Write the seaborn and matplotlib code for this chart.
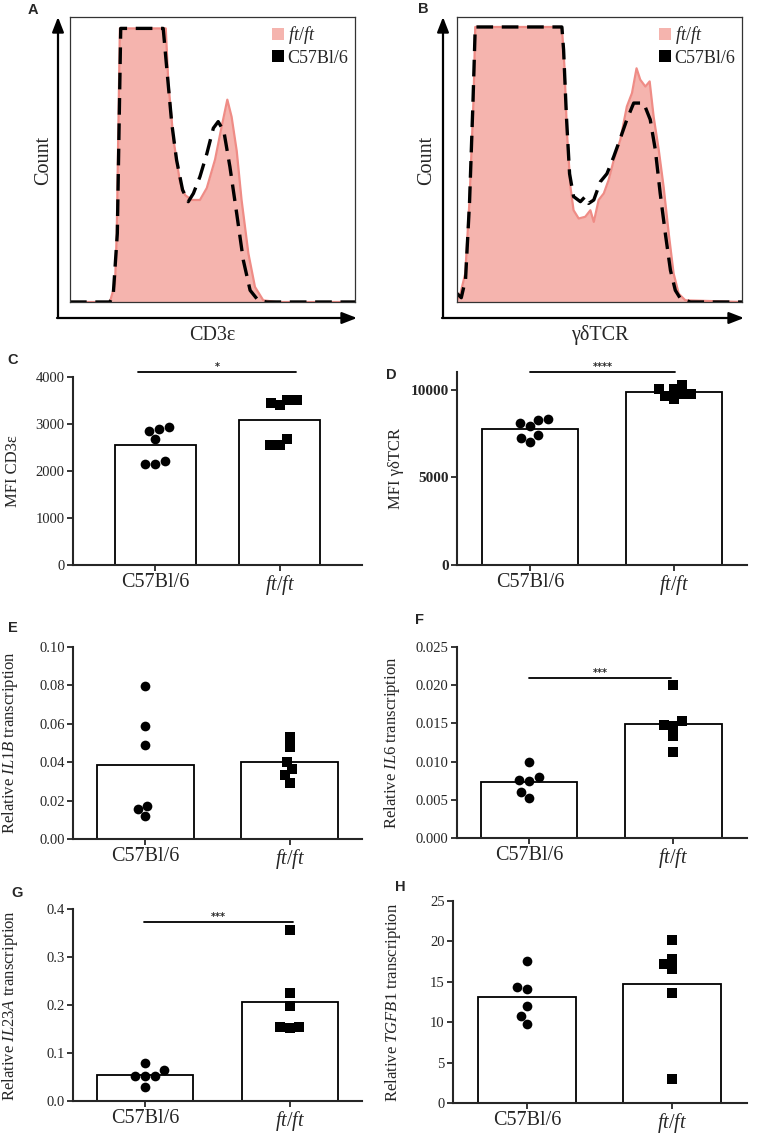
import numpy as np
import pandas as pd
import matplotlib
matplotlib.use("Agg")
import matplotlib.pyplot as plt
import seaborn as sns
from matplotlib.patches import Patch

sns.set_style("ticks")
plt.rcParams["font.family"] = ["Liberation Serif", "DejaVu Serif"]
plt.rcParams["mathtext.fontset"] = "custom"
plt.rcParams["mathtext.rm"] = "Liberation Serif"
plt.rcParams["mathtext.it"] = "Liberation Serif:italic"

W, H = 758, 1139
PINK_FILL = "#f5b4ae"
PINK_EDGE = "#ef8c86"

groups = ["C57Bl/6", "ft/ft"]
group_labels = ["C57Bl/6", r"$\mathit{ft/ft}$"]

# --- flow histograms (x: % of axis, y: % of max count) ---
cd3_ft_x = [0, 14, 15.8, 16.4, 17.5, 33.6, 34.5, 36.3, 38.6, 40.4, 42.7, 45.6, 48, 50.9,
            53.2, 55.2, 56.7, 58.5, 60.2, 62.6, 64.9, 67.8, 72.5, 100]
cd3_ft_y = [0, 0, 6.4, 24, 96, 96, 77, 57, 42, 37.5, 35.8, 35.8, 40, 50,
            61.5, 71, 65, 53, 35.8, 17, 5.3, 0.6, 0, 0]
cd3_wt_x = [0, 14, 15.2, 16.6, 17.8, 32.7, 33.9, 35.7, 37.4, 39.5, 41.5, 43.3, 45.6, 48,
            50.3, 52, 54, 56.1, 58.5, 60.8, 63.2, 66, 69, 100]
cd3_wt_y = [0, 0, 3, 24, 96, 96, 82.6, 62.7, 49.8, 39.3, 35.2, 38.1, 44, 52,
            61, 63.3, 59.8, 47.5, 31, 14.7, 4.1, 0.6, 0, 0]

gd_ft_x = [0, 1.2, 2.9, 4.4, 5.8, 6.4, 36.8, 37.7, 38.6, 39.8, 40.9, 42.7, 45, 46.8, 48,
           49.7, 51.5, 53.2, 55, 57.3, 59.6, 61.4, 63, 64.3, 66.1, 67.6, 69, 70.8, 72.5,
           74.3, 76, 77.8, 80.1, 100]
gd_ft_y = [0.6, 2.9, 10, 35.8, 71, 96.5, 96.5, 82.6, 59.2, 40.4, 32.2, 29.3, 29.9, 32.2, 28.1,
           35.8, 38.1, 42.8, 49.8, 56.9, 68.6, 73.3, 82, 78, 75.6, 77.4, 65, 53.3, 40.4,
           24, 10, 2.9, 0.6, 0]
gd_wt_x = [0, 1.5, 3, 4.4, 5.6, 6.4, 36.8, 37.4, 38.4, 39.5, 40.9, 43.3, 45, 46.2, 48,
           50.3, 52.6, 55, 57.3, 59.6, 62, 65.5, 67.8, 69.6, 71.3, 73.1, 74.9, 76.6, 78.4,
           81.9, 100]
gd_wt_y = [3, 1.5, 8, 35, 70, 96.5, 96.5, 88.5, 65, 45, 37, 35.2, 37, 34.6, 35.8,
           42.2, 45, 51, 57.4, 64, 69.8, 69.8, 64, 53.3, 38.1, 24, 11.1, 4.1, 1.2,
           0, 0]

# --- per-mouse values ---
mfi_cd3_wt = [2856, 2934, 2892, 2686, 2217, 2146, 2153]
mfi_cd3_ft = [3517, 3446, 3396, 3510, 2679, 2544, 2544]
mfi_gd_wt = [8346, 8080, 7928, 8270, 7414, 7034, 7224]
mfi_gd_ft = [10057, 9753, 10266, 9449, 9658, 9753, 10057]
il1b_wt = [0.0795, 0.0586, 0.0489, 0.0172, 0.0122, 0.0155]
il1b_ft = [0.0530, 0.0477, 0.0403, 0.0365, 0.0332, 0.0290]
il6_wt = [0.0099, 0.0076, 0.0075, 0.0080, 0.0060, 0.0052]
il6_ft = [0.0200, 0.0153, 0.0147, 0.0148, 0.0134, 0.0113]
il23a_wt = [0.079, 0.052, 0.052, 0.052, 0.064, 0.029]
il23a_ft = [0.356, 0.226, 0.198, 0.154, 0.152, 0.154]
tgfb1_wt = [17.6, 14.1, 14.4, 12.0, 10.8, 9.8]
tgfb1_ft = [20.2, 17.8, 17.2, 16.6, 13.6, 3.0]


def rect(left, top, right, bottom):
    return [left / W, 1 - bottom / H, (right - left) / W, (bottom - top) / H]


def fpos(x, y):
    return (x / W, 1 - y / H)


fig = plt.figure(figsize=(W / 100, H / 100), dpi=100)


def histogram(box, ft_x, ft_y, wt_x, wt_y, xlabel, arrow_x, label_x):
    ax = fig.add_axes(rect(*box))
    ax.fill_between(ft_x, ft_y, 0, color=PINK_FILL, lw=0)
    sns.lineplot(x=ft_x, y=ft_y, ax=ax, color=PINK_EDGE, lw=1.6, sort=False, estimator=None)
    sns.lineplot(x=wt_x, y=wt_y, ax=ax, color="black", lw=2.4, sort=False, estimator=None)
    ax.get_lines()[-1].set_dashes([5, 2.6])
    ax.set_xlim(0, 100)
    ax.set_ylim(0, 100)
    ax.set_xticks([])
    ax.set_yticks([])
    for s in ax.spines.values():
        s.set_linewidth(0.9)
        s.set_color("#333333")
    handles = [Patch(facecolor=PINK_FILL, edgecolor="none"), Patch(facecolor="black", edgecolor="none")]
    ax.legend(handles, [r"$\mathit{ft/ft}$", "C57Bl/6"], loc="upper left", bbox_to_anchor=(0.71, 0.975),
              frameon=False, fontsize=13, handlelength=0.65, handleheight=0.65,
              handletextpad=0.2, labelspacing=0.2, borderpad=0, borderaxespad=0)
    # axis arrows
    arrow = dict(arrowstyle="-|>,head_length=0.9,head_width=0.35", lw=1.6, color="black",
                 shrinkA=0, shrinkB=0)
    fig.add_artist(plt.Annotation("", xy=fpos(arrow_x, 17), xytext=fpos(arrow_x, 318),
                                  xycoords="figure fraction", textcoords="figure fraction",
                                  arrowprops=arrow))
    fig.add_artist(plt.Annotation("", xy=fpos(box[2] + 2, 318), xytext=fpos(arrow_x - 1, 318),
                                  xycoords="figure fraction", textcoords="figure fraction",
                                  arrowprops=arrow))
    fig.text(*fpos(label_x, 160), "Count", rotation=90, ha="center", va="center", fontsize=14.5)
    fig.text(*fpos((box[0] + box[2]) / 2 - 0, 335), xlabel, ha="center", va="center", fontsize=14.5)


histogram((70, 17, 355, 302), cd3_ft_x, cd3_ft_y, cd3_wt_x, cd3_wt_y, "CD3ε", 58, 44)
histogram((457, 17, 742, 302), gd_ft_x, gd_ft_y, gd_wt_x, gd_wt_y, "γδTCR", 443, 427)


def bar_panel(box, wt, ft, ylim, yticks, fmt, ylabel, xlim, width, label_x, sig=None, bold=False):
    ax = fig.add_axes(rect(*box))
    df = pd.DataFrame({"group": [groups[0]] * len(wt) + [groups[1]] * len(ft),
                       "value": list(wt) + list(ft)})
    sns.barplot(data=df, x="group", y="value", order=groups, errorbar=None, color="white",
                edgecolor="black", linewidth=1.3, width=width, ax=ax)
    sns.swarmplot(data=df[df.group == groups[0]], x="group", y="value", order=groups,
                  color="black", size=7, marker="o", ax=ax)
    sns.swarmplot(data=df[df.group == groups[1]], x="group", y="value", order=groups,
                  color="black", size=6.5, marker="s", ax=ax)
    ax.set_xlim(*xlim)
    ax.set_ylim(*ylim)
    ax.set_yticks(yticks)
    ax.set_yticklabels([fmt.format(t) for t in yticks], fontsize=11 if bold else 10.5,
                       fontweight="bold" if bold else "normal")
    ax.set_xticks([0, 1])
    ax.set_xticklabels(group_labels, fontsize=14.5)
    ax.set_xlabel("")
    ax.set_ylabel(ylabel, fontsize=12)
    ax.yaxis.set_label_coords(label_x, 0.5)
    sns.despine(ax=ax)
    for s in ("left", "bottom"):
        ax.spines[s].set_linewidth(1.5)
    ax.tick_params(axis="both", length=4, width=1.3, pad=2)
    if sig is not None:
        x0, x1, y, stars = sig
        ax.plot([x0, x1], [y, y], color="black", lw=1.3, clip_on=False)
        ax.text((x0 + x1) / 2, y, stars, ha="center", va="bottom", fontsize=7,
                family="DejaVu Sans", fontweight="bold")
    return ax


bar_panel((73, 377, 362, 565), mfi_cd3_wt, mfi_cd3_ft, (0, 4000), [0, 1000, 2000, 3000, 4000],
          "{:.0f}", "MFI CD3ε", (-0.66, 1.66), 0.65, -0.18, sig=(-0.14, 1.13, 4106, "*"))
bar_panel((457, 372, 747, 565), mfi_gd_wt, mfi_gd_ft, (0, 11000), [0, 5000, 10000],
          "{:.0f}", "MFI γδTCR", (-0.51, 1.51), 0.67, -0.183, sig=(0, 1.01, 11000, "****"), bold=True)
bar_panel((73, 647, 362, 839), il1b_wt, il1b_ft, (0, 0.10), [0, 0.02, 0.04, 0.06, 0.08, 0.10],
          "{:.2f}", r"Relative $\mathit{IL1B}$ transcription", (-0.5, 1.5), 0.67, -0.183)
bar_panel((457, 647, 747, 838), il6_wt, il6_ft, (0, 0.025), [0, 0.005, 0.010, 0.015, 0.020, 0.025],
          "{:.3f}", r"Relative $\mathit{IL6}$ transcription", (-0.5, 1.51), 0.67, -0.19,
          sig=(0, 0.98, 0.0209, "***"))
bar_panel((73, 909, 362, 1101), il23a_wt, il23a_ft, (0, 0.4), [0, 0.1, 0.2, 0.3, 0.4],
          "{:.1f}", r"Relative $\mathit{IL23A}$ transcription", (-0.5, 1.5), 0.665, -0.183,
          sig=(-0.01, 1.02, 0.373, "***"))
bar_panel((453, 901, 747, 1103), tgfb1_wt, tgfb1_ft, (0, 25), [0, 5, 10, 15, 20, 25],
          "{:.0f}", r"Relative $\mathit{TGFB1}$ transcription", (-0.51, 1.52), 0.676, -0.17)

# panel letters
for letter, x, y in [("A", 33, 10), ("B", 423, 9), ("C", 13, 360), ("D", 391, 375),
                     ("E", 13, 628), ("F", 419, 620), ("G", 17, 893), ("H", 400, 887)]:
    fig.text(*fpos(x, y), letter, ha="center", va="center", fontsize=10.5,
             family="Liberation Sans", fontweight="bold")

fig.savefig("out.png", dpi=100)
